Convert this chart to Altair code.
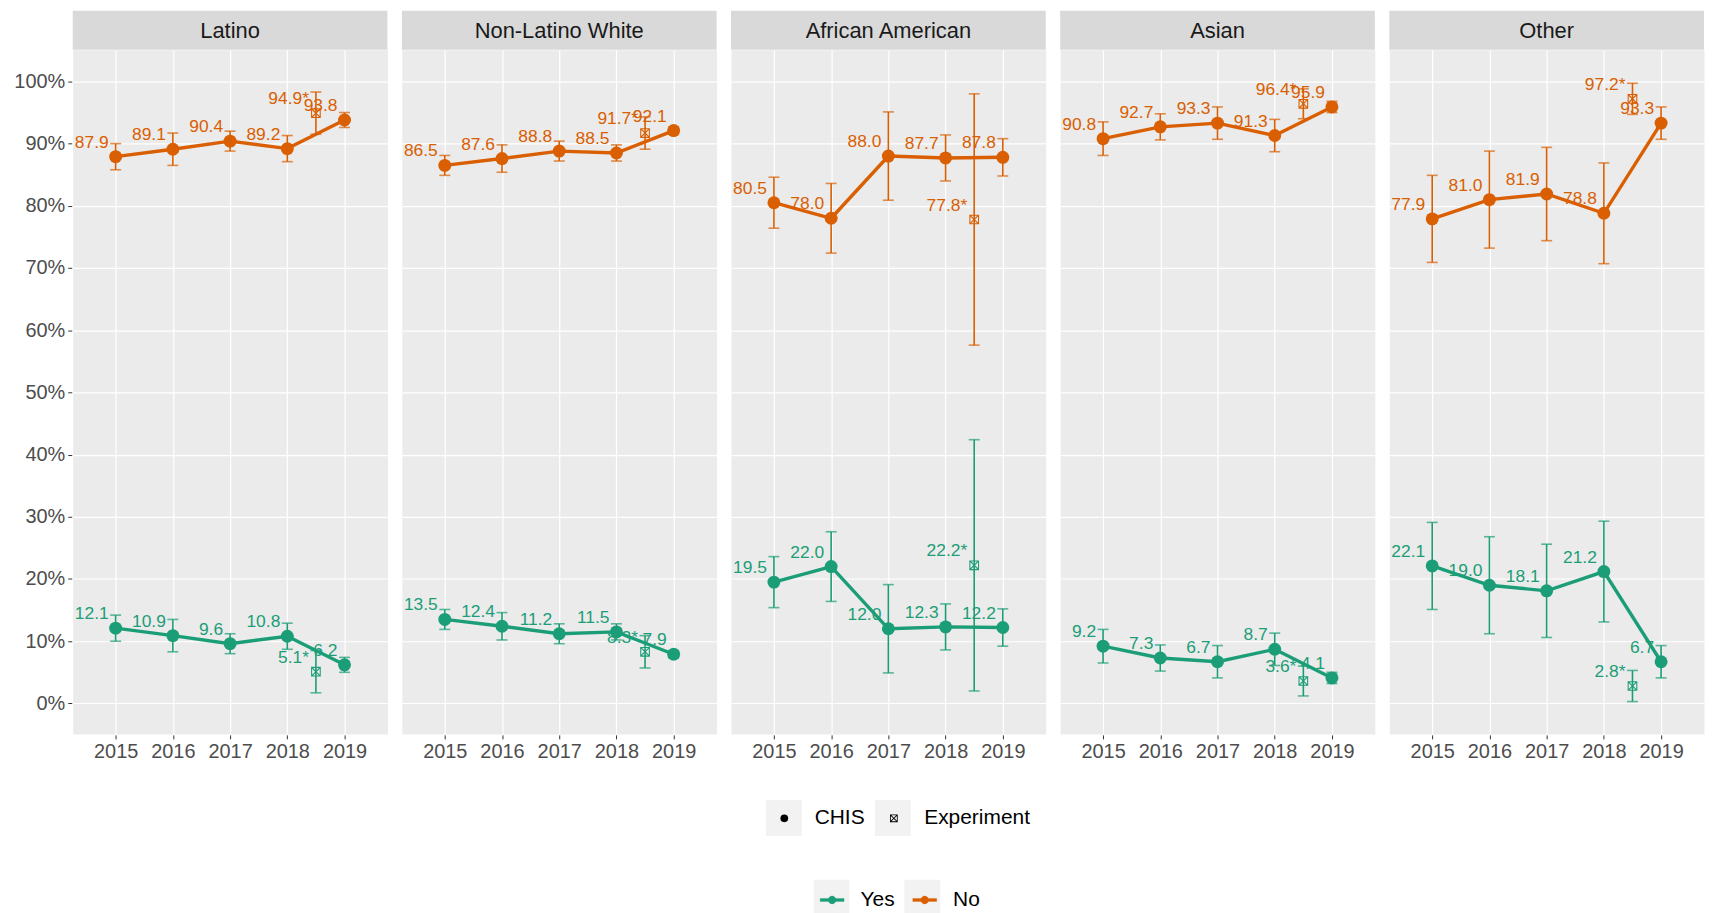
import altair as alt
import pandas as pd

# ---------------- data ----------------
groups = ["Latino", "Non-Latino White", "African American", "Asian", "Other"]
years = [2015, 2016, 2017, 2018, 2019]
exp_year = 2018.5

latino_no = [87.9, 89.1, 90.4, 89.2, 93.8]
latino_yes = [12.1, 10.9, 9.6, 10.8, 6.2]
latino_err = [2.1, 2.6, 1.6, 2.1, 1.2]
latino_exp = {"No": 94.9, "Yes": 5.1, "err": 3.4}

nlw_no = [86.5, 87.6, 88.8, 88.5, 92.1]
nlw_yes = [13.5, 12.4, 11.2, 11.5, 7.9]
nlw_err = [1.6, 2.2, 1.6, 1.3, 0.6]
nlw_exp = {"No": 91.7, "Yes": 8.3, "err": 2.6}

aa_no = [80.5, 78.0, 88.0, 87.7, 87.8]
aa_yes = [19.5, 22.0, 12.0, 12.3, 12.2]
aa_err = [4.1, 5.6, 7.1, 3.7, 3.0]
aa_exp = {"No": 77.8, "Yes": 22.2, "err": 20.2}

asian_no = [90.8, 92.7, 93.3, 91.3, 95.9]
asian_yes = [9.2, 7.3, 6.7, 8.7, 4.1]
asian_err = [2.7, 2.1, 2.6, 2.6, 0.9]
asian_exp = {"No": 96.4, "Yes": 3.6, "err": 2.4}

other_no = [77.9, 81.0, 81.9, 78.8, 93.3]
other_yes = [22.1, 19.0, 18.1, 21.2, 6.7]
other_err = [7.0, 7.8, 7.5, 8.1, 2.6]
other_exp = {"No": 97.2, "Yes": 2.8, "err": 2.5}

series = {
    "Latino": (latino_no, latino_yes, latino_err, latino_exp),
    "Non-Latino White": (nlw_no, nlw_yes, nlw_err, nlw_exp),
    "African American": (aa_no, aa_yes, aa_err, aa_exp),
    "Asian": (asian_no, asian_yes, asian_err, asian_exp),
    "Other": (other_no, other_yes, other_err, other_exp),
}

rows = []
for g in groups:
    no, yes, err, ex = series[g]
    for resp, vals in (("Yes", yes), ("No", no)):
        for yr, v, e in zip(years, vals, err):
            rows.append(dict(group=g, response=resp, source="CHIS", year=yr,
                             value=v, lo=v - e, hi=v + e, label=f"{v:.1f}"))
        v = ex[resp]
        rows.append(dict(group=g, response=resp, source="Experiment", year=exp_year,
                         value=v, lo=v - ex["err"], hi=v + ex["err"], label=f"{v:.1f}*"))
df = pd.DataFrame(rows)

GREEN, ORANGE = "#1B9E77", "#D95F02"
KEYBG = "#F2F2F2"

# square with an X, drawn as a filled frame with four triangular holes (opposite winding)
SQX = ("M-1,-1L1,-1L1,1L-1,1Z"
       "M0.61,-0.78L-0.61,-0.78L0,-0.17Z"
       "M0.78,0.61L0.78,-0.61L0.17,0Z"
       "M-0.61,0.78L0.61,0.78L0,0.17Z"
       "M-0.78,-0.61L-0.78,0.61L-0.17,0Z")
# line with a dot in the middle, all filled
LINEPT = ("M-1,-0.13L1,-0.13L1,0.13L-1,0.13Z"
          "M0.33,0A0.33,0.33,0,1,1,-0.33,0A0.33,0.33,0,1,1,0.33,0Z")

W, H = 316, 687

x_enc = alt.X("year:Q", scale=alt.Scale(domain=[2014.25, 2019.75], nice=False, zero=False),
              axis=alt.Axis(values=years, format="d", title=None))
y_enc = alt.Y("value:Q", scale=alt.Scale(domain=[-4.9, 105.1], nice=False, zero=False),
              axis=alt.Axis(values=list(range(0, 101, 10)), labelExpr="datum.value + '%'", title=None))

# legend placement (pixels from the first panel's top-left corner)
SH_X, SH_Y = 704, 761
CO_X, CO_Y = 750, 841

color_enc = alt.Color(
    "response:N", scale=alt.Scale(domain=["Yes", "No"], range=[GREEN, ORANGE]),
    legend=alt.Legend(
        title=None, orient="none", legendX=CO_X, legendY=CO_Y, direction="horizontal",
        symbolType=LINEPT, symbolSize=576, symbolStrokeWidth=0.3, symbolOpacity=1,
        labelFontSize=21, labelColor="black", labelOffset=16, columnPadding=16, padding=0, zindex=2,
    ),
)
shape_enc = alt.Shape(
    "source:N",
    scale=alt.Scale(domain=["CHIS", "Experiment"], range=["circle", SQX]),
    legend=alt.Legend(
        title=None, orient="none", legendX=SH_X, legendY=SH_Y, direction="horizontal",
        symbolSize=60, symbolFillColor="black", symbolStrokeWidth=0, symbolOpacity=1,
        labelFontSize=21, labelColor="black", labelOffset=20, columnPadding=18, padding=0, zindex=2,
    ),
)

# grey key backgrounds (empty layers that only contribute a legend)
key_shape = alt.Chart().transform_filter("false").mark_point(filled=True, color=KEYBG).encode(
    x=x_enc, y=y_enc,
    fill=alt.Fill("keyshape:N", scale=alt.Scale(domain=["CHIS ", "Experiment "], range=[KEYBG, KEYBG]),
                  legend=alt.Legend(title=None, orient="none", legendX=SH_X - 8, legendY=SH_Y - 7.5,
                                    direction="horizontal", symbolType="square", symbolSize=1296,
                                    symbolStrokeWidth=0, symbolOpacity=1, labelFontSize=21, labelOpacity=0,
                                    labelExpr="trim(datum.label)", labelOffset=5, columnPadding=17.5,
                                    padding=0, zindex=1)))
key_color = alt.Chart().transform_filter("false").mark_point(filled=True, color=KEYBG).encode(
    x=x_enc, y=y_enc,
    stroke=alt.Stroke("keycolor:N", scale=alt.Scale(domain=["Yes ", "No "], range=[KEYBG, KEYBG]),
                      legend=alt.Legend(title=None, orient="none", legendX=CO_X - 6, legendY=CO_Y - 7.5,
                                        direction="horizontal", symbolType="square", symbolSize=1296,
                                        symbolStrokeWidth=0, symbolFillColor=KEYBG, symbolOpacity=1,
                                        labelFontSize=21, labelOpacity=0, labelExpr="trim(datum.label)",
                                        labelOffset=4, columnPadding=16, padding=0, zindex=1)))

strip_rect = alt.Chart().transform_aggregate(n="count()", groupby=["group"]).mark_rect(
    color="#D9D9D9").encode(x=alt.value(0), x2=alt.value(W), y=alt.value(-39), y2=alt.value(0))
strip_text = alt.Chart().transform_aggregate(n="count()", groupby=["group"]).mark_text(
    fontSize=22, color="#1A1A1A", baseline="middle", align="center").encode(
    x=alt.value(W / 2), y=alt.value(-19), text="group:N")

err_rule = alt.Chart().mark_rule(strokeWidth=1.6).encode(
    x=x_enc, y=alt.Y("lo:Q"), y2="hi:Q", color=color_enc)
cap_lo = alt.Chart().mark_tick(orient="horizontal", size=11, thickness=1.6).encode(
    x=x_enc, y=alt.Y("lo:Q"), color=color_enc)
cap_hi = alt.Chart().mark_tick(orient="horizontal", size=11, thickness=1.6).encode(
    x=x_enc, y=alt.Y("hi:Q"), color=color_enc)
line = alt.Chart().transform_filter(alt.datum.source == "CHIS").mark_line(strokeWidth=3.4).encode(
    x=x_enc, y=y_enc, color=color_enc, detail="response:N")
pts_chis = alt.Chart().transform_filter(alt.datum.source == "CHIS").mark_point(
    filled=True, size=169, opacity=1, strokeWidth=0).encode(
    x=x_enc, y=y_enc, color=color_enc, shape=shape_enc)
pts_exp = alt.Chart().transform_filter(alt.datum.source == "Experiment").mark_point(
    filled=True, size=95, opacity=1, strokeWidth=0).encode(
    x=x_enc, y=y_enc, color=color_enc, shape=shape_enc)
labels = alt.Chart().mark_text(fontSize=17.5, align="right", baseline="alphabetic", dx=-7, dy=-9).encode(
    x=x_enc, y=y_enc, text="label:N", color=color_enc)

panel = alt.layer(strip_rect, strip_text, err_rule, cap_lo, cap_hi, line, pts_chis, pts_exp, labels,
                  key_shape, key_color, data=df).properties(width=W, height=H)

chart = panel.facet(
    column=alt.Column("group:N", sort=groups, header=alt.Header(labels=False, title=None)),
    spacing=12.5,
).properties(padding={"left": 5, "top": 0, "right": 0, "bottom": 2}).configure(
    font="Liberation Sans",
).configure_view(fill="#EBEBEB", stroke="transparent").configure_axis(
    domain=False, grid=True, gridColor="white", gridWidth=1.2, tickColor="#333333", tickSize=4,
    labelColor="#4D4D4D", labelFontSize=20, labelPadding=3,
).configure_legend(labelFont="Liberation Sans")

chart.save("out.html", embed_options={"renderer": "svg", "actions": False})
